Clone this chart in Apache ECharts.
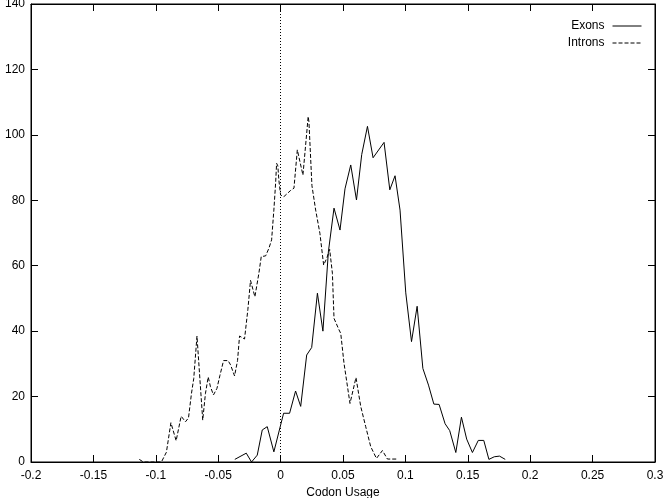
<!DOCTYPE html>
<html>
<head>
<meta charset="utf-8">
<script src="https://cdn.jsdelivr.net/npm/echarts@6/dist/echarts.min.js"></script>
<style>
html,body{margin:0;padding:0;background:#fff;}
#main{width:664px;height:498px;}
</style>
</head>
<body>
<div id="main"></div>
<script>
var exonsX = [-0.0367, -0.0275, -0.0233, -0.0187, -0.0147, -0.0107, -0.0054, 0.0024, 0.0072, 0.0120, 0.0161, 0.0209, 0.0249, 0.0295, 0.0339, 0.0383, 0.0428, 0.0476, 0.0516, 0.0562, 0.0608, 0.0650, 0.0696, 0.0741, 0.0829, 0.0875, 0.0917, 0.0957, 0.1003, 0.1049, 0.1094, 0.1140, 0.1185, 0.1228, 0.1270, 0.1318, 0.1355, 0.1404, 0.1449, 0.1491, 0.1537, 0.1584, 0.1628, 0.1669, 0.1712, 0.1754, 0.1800];
var exonsY = [0.8, 2.7, 0, 2.1, 9.8, 10.8, 3.1, 14.9, 14.9, 21.7, 17, 32.7, 35, 51.6, 40, 64.3, 77.6, 70.9, 83.5, 90.8, 80.1, 94, 102.6, 93, 97.7, 83.2, 87.5, 77, 51.7, 36.8, 47.6, 28.6, 23.5, 17.7, 17.6, 11.7, 9.6, 2.9, 13.7, 7, 2.9, 6.6, 6.6, 0.8, 1.6, 1.8, 0.8];
var intronsX = [-0.1132, -0.110, -0.0955, -0.0915, -0.0879, -0.0837, -0.0797, -0.0762, -0.0738, -0.0714, -0.0696, -0.0670, -0.0646, -0.0624, -0.0602, -0.0580, -0.0562, -0.0538, -0.0510, -0.0486, -0.0457, -0.0421, -0.0401, -0.0369, -0.0345, -0.0329, -0.0289, -0.0262, -0.0241, -0.0206, -0.0174, -0.0155, -0.0120, -0.0094, -0.0072, -0.0054, -0.0040, -0.0032, -0.0022, -0.0014, 0, 0.0026, 0.0080, 0.0107, 0.0134, 0.0179, 0.0221, 0.0227, 0.0251, 0.0281, 0.0315, 0.0345, 0.0372, 0.0393, 0.0415, 0.0428, 0.0468, 0.0482, 0.0508, 0.0556, 0.0604, 0.0642, 0.0682, 0.0722, 0.0768, 0.0816, 0.0856, 0.0937];
var intronsY = [0.8, 0, 0, 3, 12, 6.5, 14, 12.3, 13.5, 21, 25.5, 38.5, 25, 12.8, 21, 26, 23, 20.5, 22.5, 26.5, 31, 31, 29.7, 26.3, 31, 38.5, 37.6, 46.7, 55.5, 50.5, 57.7, 62.8, 63, 65.3, 67.9, 77, 85.2, 91.3, 90.5, 86.2, 81.6, 81.1, 83, 83.7, 95.4, 87.7, 105.6, 104, 84.5, 77, 69.9, 60.2, 62.5, 65, 57.7, 43.9, 40.4, 39.3, 30.2, 17.9, 25.8, 17, 10.8, 4.7, 1.1, 3.5, 0.9, 0.9];
var seriesNames = ["Exons", "Introns"];
var xMin = -0.2, xMax = 0.3, xStep = 0.05;
var yMin = 0, yMax = 140, yStep = 20;
var xTitle = "Codon Usage";

function zip(a, b) { return a.map(function (v, i) { return [v, b[i]]; }); }
var FONT = "Liberation Sans, Arial, Helvetica, sans-serif";
var fmtX = function (v) { return String(parseFloat(v.toFixed(4))); };

var chart = echarts.init(document.getElementById('main'), null, {renderer: 'canvas'});
function axisCommon() {
  return {
    axisLine: {show: true, onZero: false, lineStyle: {color: '#000', width: 1}},
    axisTick: {show: true, inside: true, length: 7, lineStyle: {color: '#000', width: 1}},
    splitLine: {show: false}
  };
}
chart.setOption({
  animation: false,
  backgroundColor: '#fff',
  grid: {left: 31, right: 9, top: 4, bottom: 36, show: true, borderColor: '#000', borderWidth: 1,
         containLabel: false, outerBoundsMode: 'none'},
  legend: {
    orient: 'vertical', right: 17, top: 15, align: 'right',
    itemWidth: 29, itemHeight: 10, itemGap: 5,
    itemStyle: {opacity: 0},
    lineStyle: {width: 1},
    textStyle: {fontFamily: FONT, fontSize: 12, color: '#000', padding: [0, 3, 0, 0]},
    data: seriesNames
  },
  xAxis: [
    Object.assign({type: 'value', min: xMin, max: xMax, interval: xStep, position: 'bottom',
      name: xTitle, nameLocation: 'middle', nameGap: 23,
      nameTextStyle: {fontFamily: FONT, fontSize: 12, color: '#000'},
      axisLabel: {color: '#000', fontFamily: FONT, fontSize: 12, margin: 8, formatter: fmtX}}, axisCommon()),
    Object.assign({type: 'value', min: xMin, max: xMax, interval: xStep, position: 'top',
      axisLabel: {show: false}}, axisCommon())
  ],
  yAxis: [
    Object.assign({type: 'value', min: yMin, max: yMax, interval: yStep, position: 'left',
      axisLabel: {color: '#000', fontFamily: FONT, fontSize: 12, margin: 6}}, axisCommon()),
    Object.assign({type: 'value', min: yMin, max: yMax, interval: yStep, position: 'right',
      axisLabel: {show: false}}, axisCommon())
  ],
  series: [
    {
      name: seriesNames[0], type: 'line', symbol: 'none', xAxisIndex: 0, yAxisIndex: 0,
      data: zip(exonsX, exonsY),
      lineStyle: {color: '#000', width: 1, type: 'solid'},
      itemStyle: {color: '#000'},
      markLine: {
        silent: true, symbol: ['none', 'none'], label: {show: false},
        lineStyle: {color: '#000', width: 1, type: [1, 2]},
        data: [{xAxis: 0}]
      }
    },
    {
      name: seriesNames[1], type: 'line', symbol: 'none', xAxisIndex: 0, yAxisIndex: 0,
      data: zip(intronsX, intronsY),
      lineStyle: {color: '#000', width: 1, type: [4, 2]},
      itemStyle: {color: '#000'}
    }
  ]
});
</script>
</body>
</html>
